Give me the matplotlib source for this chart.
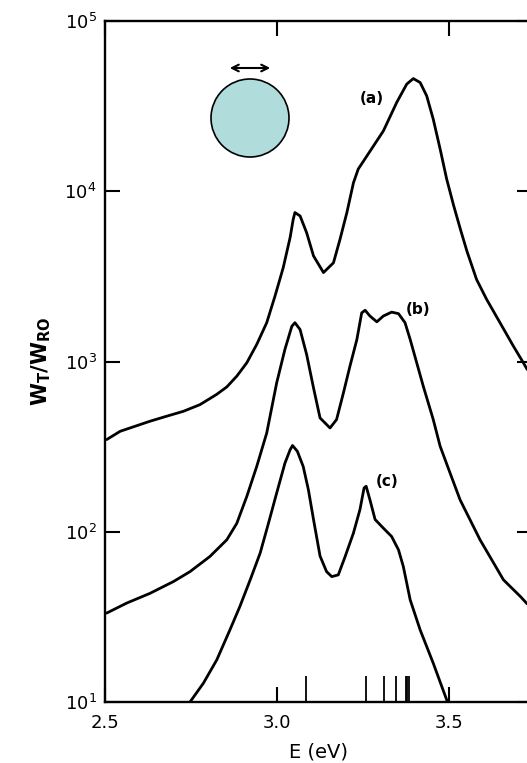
import numpy as np
import matplotlib
matplotlib.use("Agg")
import matplotlib.pyplot as plt
from matplotlib.patches import Ellipse, FancyArrowPatch

# curve (a)
E_a = [2.505, 2.544, 2.582, 2.631, 2.679, 2.728, 2.776, 2.824, 2.854, 2.883, 2.912,
       2.941, 2.970, 2.994, 3.018, 3.038, 3.047, 3.052, 3.067, 3.086, 3.106, 3.135,
       3.164, 3.183, 3.203, 3.222, 3.236, 3.261, 3.309, 3.348, 3.377, 3.396, 3.416,
       3.435, 3.454, 3.474, 3.493, 3.513, 3.533, 3.552, 3.580, 3.609, 3.648, 3.687,
       3.716, 3.727]
W_a = [348, 389, 413, 446, 477, 510, 558, 640, 709, 820, 982,
       1260, 1690, 2420, 3560, 5350, 6840, 7500, 7160, 5710, 4170, 3330,
       3800, 5220, 7500, 11200, 13500, 16100, 22600, 33300, 42600, 45900, 43500,
       36300, 26500, 17700, 11800, 8280, 5970, 4440, 3030, 2320, 1690, 1230,
       982, 898]

# curve (b)
E_b = [2.505, 2.563, 2.631, 2.699, 2.747, 2.805, 2.854, 2.883, 2.912, 2.941, 2.970,
       2.999, 3.023, 3.043, 3.052, 3.067, 3.086, 3.106, 3.125, 3.154, 3.173, 3.193,
       3.212, 3.232, 3.246, 3.256, 3.270, 3.290, 3.309, 3.333, 3.353, 3.372, 3.387,
       3.406, 3.425, 3.454, 3.474, 3.503, 3.532, 3.590, 3.658, 3.707, 3.727]
W_b = [33.3, 38.1, 43.5, 51, 58.3, 71.6, 89.7, 112, 161, 242, 380,
       750, 1180, 1610, 1690, 1540, 1100, 700, 466, 407, 456, 655,
       940, 1346, 1930, 2000, 1850, 1710, 1850, 1950, 1910, 1690, 1346,
       982, 716, 456, 318, 221, 154, 89.7, 52.2, 41.7, 37.7]

# curve (c)
E_c = [2.747, 2.786, 2.825, 2.863, 2.892, 2.922, 2.951, 2.975, 2.999, 3.023, 3.038,
       3.045, 3.059, 3.076, 3.091, 3.106, 3.125, 3.144, 3.159, 3.178, 3.198, 3.222,
       3.241, 3.253, 3.259, 3.270, 3.285, 3.309, 3.333, 3.353, 3.367, 3.387, 3.416,
       3.454, 3.493, 3.497]
W_c = [10, 12.9, 17.7, 26.5, 36.4, 52.2, 75, 112, 169, 253, 303,
       321, 297, 242, 177, 118, 72, 58.3, 54.5, 55.8, 71.6, 98.2,
       135, 181, 185, 154, 118, 105, 93.8, 78.3, 62.5, 39.8, 26.5,
       16.9, 10.3, 10]

# mode positions marked on the energy axis
E_modes = [3.085, 3.26, 3.312, 3.345, 3.374, 3.378, 3.383]

labels = ["(a)", "(b)", "(c)"]
label_pos = [(3.276, 3.5e4), (3.41, 2030), (3.32, 197)]

W, H = 527, 763
fig = plt.figure(figsize=(W / 100, H / 100), dpi=100)
ax = fig.add_axes([105 / W, 61 / H, 427 / W, 681 / H])

for E, Wv in [(E_a, W_a), (E_b, W_b), (E_c, W_c)]:
    ax.plot(E, Wv, color="black", lw=2.0, solid_joinstyle="round", solid_capstyle="round")

ax.vlines(E_modes, 10, 14.2, color="black", lw=1.3)

for lab, (x, y) in zip(labels, label_pos):
    ax.text(x, y, lab, fontsize=11, fontweight="bold", ha="center", va="center")

ax.set_yscale("log")
ax.set_xlim(2.5, 3.741)
ax.set_ylim(10, 1e5)
ax.set_xticks([2.5, 3.0, 3.5])
ax.set_xticklabels(["2.5", "3.0", "3.5"])
ax.set_yticks([10, 100, 1000, 1e4, 1e5])
ax.set_yticklabels([r"$10^1$", r"$10^2$", r"$10^3$", r"$10^4$", r"$10^5$"])
ax.minorticks_off()
ax.tick_params(direction="in", length=11, width=1.5, labelsize=13,
               top=True, right=True)
ax.tick_params(axis="x", pad=9)
ax.tick_params(axis="y", pad=6)
for s in ax.spines.values():
    s.set_linewidth(1.7)

ax.set_xlabel("E (eV)", fontsize=14, labelpad=7)
ax.set_ylabel(r"$\mathbf{W_T/W_{RO}}$", fontsize=15, labelpad=8)

# sketch of the sphere and the polarization arrow
fig.patches.append(Ellipse((250 / W, 1 - 118 / H), 78 / W, 78 / H,
                           transform=fig.transFigure, facecolor="#b0dcdc",
                           edgecolor="black", lw=1.2))
fig.patches.append(FancyArrowPatch((227 / W, 1 - 68 / H), (273 / W, 1 - 68 / H),
                                   transform=fig.transFigure, arrowstyle="<->",
                                   mutation_scale=12, color="black", lw=1.5))

fig.savefig("out.png", dpi=100)
